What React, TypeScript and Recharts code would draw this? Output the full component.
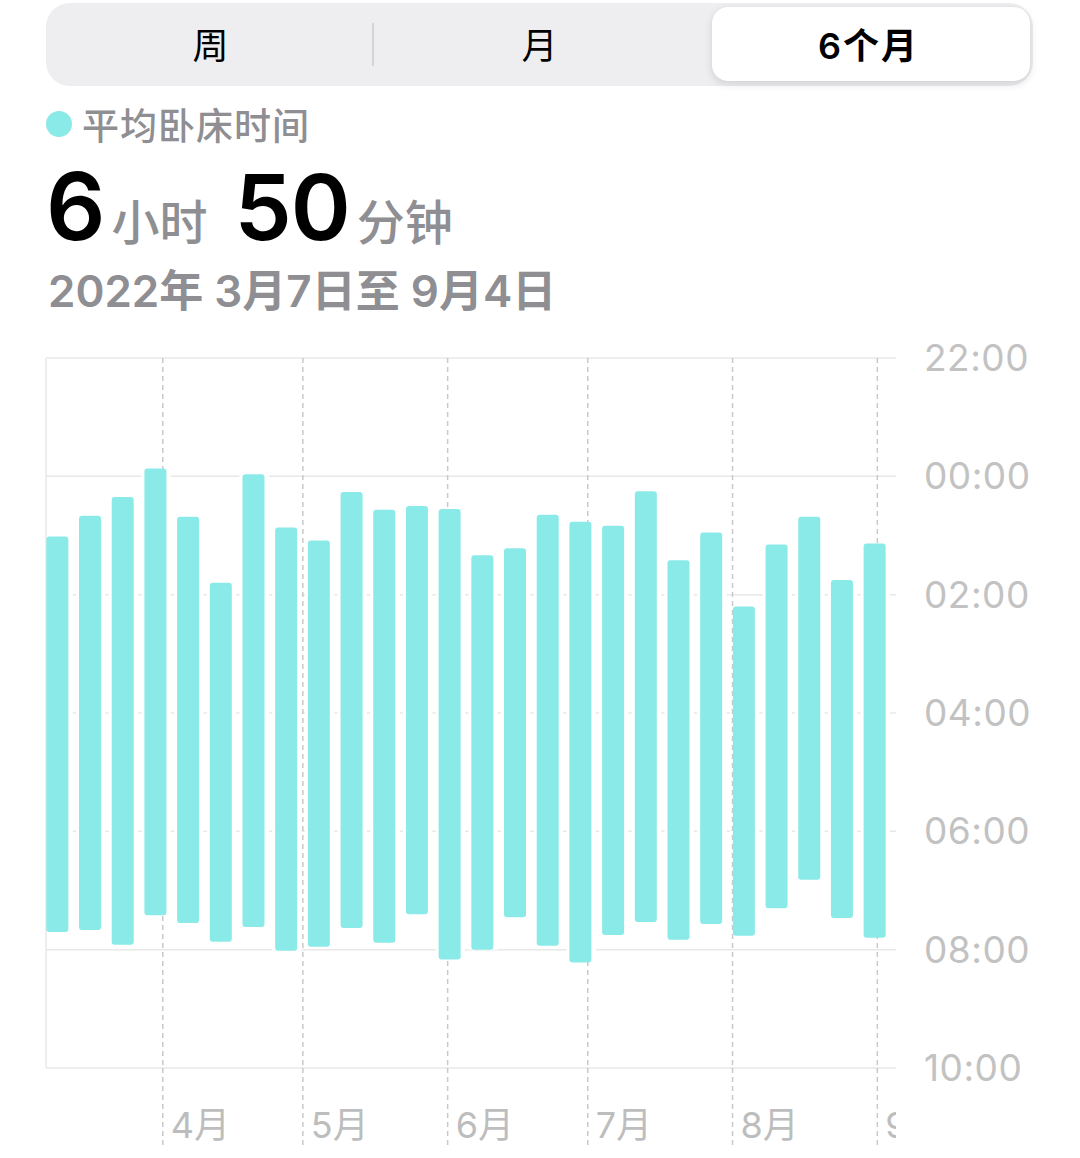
import { BarChart, Bar, XAxis, YAxis, CartesianGrid } from "recharts";

const FONT = "Inter, 'Noto Sans CJK SC', sans-serif";
const BAR = "#8aeae7";
const GRID = "#e8e8e8";
const DASH = "#c9c9c9";

// weekly averages, 2022-03-07 .. 2022-09-04
const weekStarts = [
  "3/7", "3/14", "3/21", "3/28", "4/4", "4/11", "4/18", "4/25", "5/2", "5/9",
  "5/16", "5/23", "5/30", "6/6", "6/13", "6/20", "6/27", "7/4", "7/11", "7/18",
  "7/25", "8/1", "8/8", "8/15", "8/22", "8/29",
];
const bedTimes = [
  "01:01", "00:40", "00:21", "23:52", "00:41", "01:48", "23:58", "00:52", "01:05", "00:16",
  "00:34", "00:30", "00:33", "01:20", "01:13", "00:39", "00:46", "00:50", "00:15", "01:25",
  "00:57", "02:12", "01:09", "00:41", "01:45", "01:08",
];
const wakeTimes = [
  "07:42", "07:40", "07:55", "07:25", "07:33", "07:52", "07:37", "08:01", "07:57", "07:38",
  "07:53", "07:24", "08:10", "08:00", "07:27", "07:56", "08:13", "07:45", "07:32", "07:50",
  "07:34", "07:46", "07:18", "06:49", "07:28", "07:48",
];
const monthStarts = ["4/1", "5/1", "6/1", "7/1", "8/1", "9/1"];
const monthLabels = ["4月", "5月", "6月", "7月", "8月", "9月"];
const hourTicks = [-2, 0, 2, 4, 6, 8, 10];

const RANGE_DAYS = 182;
const BAR_OFFSET_DAYS = 2.5;

const dayOf = (md: string) => {
  const [m, d] = md.split("/").map(Number);
  return (Date.UTC(2022, m - 1, d) - Date.UTC(2022, 2, 7)) / 86400000;
};
// clock time -> hours after midnight (evening times go negative)
const toHours = (t: string) => {
  const [h, m] = t.split(":").map(Number);
  const v = h + m / 60;
  return v >= 12 ? v - 24 : v;
};
const fmtHour = (v: number) => `${String((v + 24) % 24).padStart(2, "0")}:00`;

const data = weekStarts.map((w, i) => ({
  week: w,
  x: dayOf(w) + BAR_OFFSET_DAYS,
  range: [toHours(bedTimes[i]), toHours(wakeTimes[i])],
}));
const monthDays = monthStarts.map(dayOf);

const W = 1080;
const H = 828;
const M = { top: 28, right: 44, bottom: 10, left: 46 };
const Y_W = 140;
const X_H = 80;
const PLOT_RIGHT = W - M.right - Y_W;

function MonthTick(props: any) {
  const { x, y, index } = props;
  const id = `mclip${index}`;
  return (
    <g>
      <defs>
        <clipPath id={id}>
          <rect x={0} y={y} width={PLOT_RIGHT} height={X_H} />
        </clipPath>
      </defs>
      <line x1={x} x2={x} y1={y} y2={y + 77} stroke={DASH} strokeWidth={1.5} strokeDasharray="5 4" />
      <text x={x + 8} y={y + 70} fill="#bdbdbd" fontSize={36} fontFamily={FONT} clipPath={`url(#${id})`}>
        {monthLabels[index]}
      </text>
    </g>
  );
}

function Header() {
  const seg = { position: "absolute" as const, top: 1, height: 83, width: 329, display: "flex", alignItems: "center", justifyContent: "center", fontSize: 36, color: "#000" };
  return (
    <>
      <div style={{ position: "absolute", left: 46, top: 3, width: 987, height: 83, background: "#eeeef0", borderRadius: 24 }} />
      <div style={{ position: "absolute", left: 372, top: 23, width: 2, height: 43, background: "#d4d4d8" }} />
      <div style={{ position: "absolute", left: 712, top: 7, width: 318, height: 74, background: "#fff", borderRadius: 16, boxShadow: "0 3px 8px rgba(0,0,0,0.12), 0 0 1px rgba(0,0,0,0.08)" }} />
      <div style={{ ...seg, left: 46, fontWeight: 400 }}>周</div>
      <div style={{ ...seg, left: 375, fontWeight: 400 }}>月</div>
      <div style={{ ...seg, left: 704, fontWeight: 600, letterSpacing: 2 }}>6个月</div>

      <div style={{ position: "absolute", left: 46, top: 111, width: 26, height: 26, borderRadius: 13, background: BAR }} />
      <div style={{ position: "absolute", left: 82, top: 104, height: 46, lineHeight: "46px", fontSize: 37, letterSpacing: 1, fontWeight: 500, color: "#8e8e93" }}>
        平均卧床时间
      </div>

      <div style={{ position: "absolute", left: 46, top: 160, display: "flex", alignItems: "baseline", lineHeight: 1, whiteSpace: "nowrap" }}>
        <span style={{ fontSize: 93, fontWeight: 600, color: "#000" }}>6</span>
        <span style={{ fontSize: 48, fontWeight: 500, color: "#8e8e93", marginLeft: 6 }}>小时</span>
        <span style={{ fontSize: 91, fontWeight: 600, color: "#000", marginLeft: 27, letterSpacing: -1 }}>50</span>
        <span style={{ fontSize: 48, fontWeight: 500, color: "#8e8e93", marginLeft: 7 }}>分钟</span>
      </div>

      <div style={{ position: "absolute", left: 48, top: 263, height: 56, lineHeight: "56px", fontSize: 44, fontWeight: 600, color: "#8e8e93", whiteSpace: "nowrap" }}>
        2022年 3月7日至 9月4日
      </div>
    </>
  );
}

export default function App() {
  return (
    <div style={{ position: "absolute", left: 0, top: 0, width: 1080, height: 1158, background: "#fff", overflow: "hidden", fontFamily: FONT }}>
      <Header />
      <div style={{ position: "absolute", left: 0, top: 330 }}>
        <BarChart width={W} height={H} data={data} margin={M}>
          <CartesianGrid stroke={GRID} strokeWidth={1.5} vertical={false} />
          <XAxis
            dataKey="x" type="number" domain={[0, RANGE_DAYS]} ticks={monthDays} interval={0}
            allowDataOverflow height={X_H} axisLine={false} tickLine={false} tickSize={0} tickMargin={0}
            tick={<MonthTick />}
          />
          <XAxis xAxisId="bg" dataKey="x" type="number" domain={[0, RANGE_DAYS]} allowDataOverflow hide />
          <YAxis
            type="number" orientation="right" domain={[-2, 10]} reversed ticks={hourTicks} interval={0}
            width={Y_W} axisLine={false} tickLine={false} tickSize={0} tickMargin={28}
            tickFormatter={fmtHour}
            tick={{ fill: "#c2c2c2", fontSize: 37, fontFamily: FONT, letterSpacing: 0.5 }}
          />
          {/* white knock-out behind each bar hides the solid grid between neighbours */}
          <Bar xAxisId="bg" dataKey="range" fill="#fff" barSize={36} isAnimationActive={false} zIndex={100} />
          <CartesianGrid
            stroke={GRID} strokeWidth={1.5} horizontal={false} verticalValues={[0]} zIndex={150}
          />
          <CartesianGrid
            stroke={DASH} strokeWidth={1.5} strokeDasharray="5 4" horizontal={false}
            verticalValues={monthDays} zIndex={200}
          />
          <Bar dataKey="range" fill={BAR} barSize={22} radius={3} isAnimationActive={false} zIndex={300} />
        </BarChart>
      </div>
    </div>
  );
}
